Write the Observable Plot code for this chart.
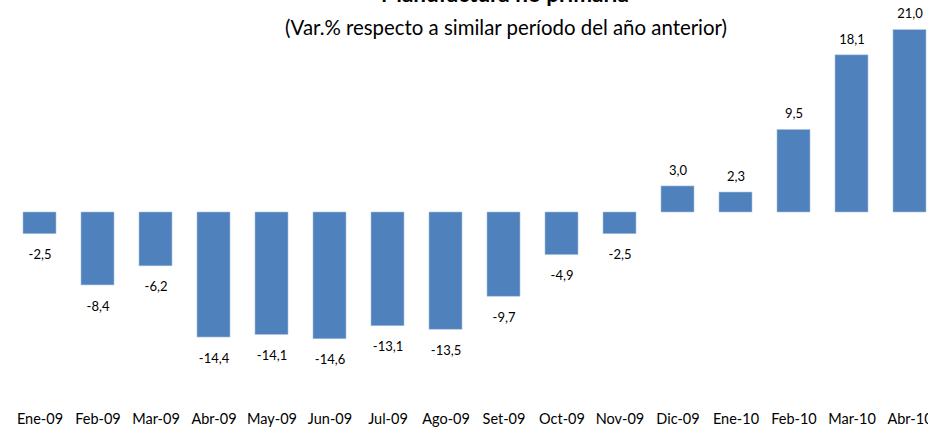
<!DOCTYPE html>
<html>
<head>
<meta charset="utf-8">
<script src="https://cdn.jsdelivr.net/npm/d3@7"></script>
<script src="https://cdn.jsdelivr.net/npm/@observablehq/plot@0.6"></script>
<style>
  html, body { margin: 0; padding: 0; background: #fff; overflow: hidden; }
  #wrap { position: relative; width: 928px; height: 431px; font-family: Lato, "Open Sans", sans-serif; }
  #title { position: absolute; left: 0; width: 1010px; top: -17px; line-height: 1; text-align: center; font-weight: bold; font-size: 22.5px; color: #000; white-space: nowrap; }
  #subtitle { position: absolute; left: 0; width: 1012px; top: 17px; line-height: 1; text-align: center; font-size: 20.4px; color: #000; white-space: nowrap; }
  #chart { position: absolute; left: 0; top: 0; }
</style>
</head>
<body>
<div id="wrap">
  <div id="chart"></div>
  <div id="title">Manufactura no primaria</div>
  <div id="subtitle">(Var.% respecto a similar período del año anterior)</div>
</div>
<script>
const months = ["Ene-09","Feb-09","Mar-09","Abr-09","May-09","Jun-09","Jul-09","Ago-09","Set-09","Oct-09","Nov-09","Dic-09","Ene-10","Feb-10","Mar-10","Abr-10"];
const values = [-2.5,-8.4,-6.2,-14.4,-14.1,-14.6,-13.1,-13.5,-9.7,-4.9,-2.5,3.0,2.3,9.5,18.1,21.0];

const data = months.map((m, i) => ({month: m, value: values[i]}));
const fmt = v => v.toFixed(1).replace(".", ",");

const chart = Plot.plot({
  width: 928,
  height: 431,
  marginTop: 21,
  marginBottom: 28,
  marginLeft: 9,
  marginRight: 0,
  style: {fontFamily: "Lato, 'Open Sans', sans-serif", background: "transparent", overflow: "visible"},
  x: {domain: months, range: [9, 940], paddingInner: 0.43, paddingOuter: 0.215},
  y: {domain: [-22, 22], axis: null},
  marks: [
    Plot.barY(data, {x: "month", y: "value", fill: "#4F81BD", stroke: "#A7BFDE", strokeWidth: 0.6}),
    Plot.ruleY([0], {stroke: "#868686", strokeWidth: 1.6, x1: 9, x2: 940}),
    Plot.text(data.filter(d => d.value < 0), {x: "month", y: "value", text: d => fmt(d.value), dy: 21, fontSize: 13, fill: "#000"}),
    Plot.text(data.filter(d => d.value >= 0), {x: "month", y: "value", text: d => fmt(d.value), dy: -16, fontSize: 13, fill: "#000"}),
    Plot.axisX({anchor: "bottom", tickSize: 0, tickPadding: 10, fontSize: 14.5, label: null, color: "#000"})
  ]
});
document.getElementById("chart").appendChild(chart);
</script>
</body>
</html>
